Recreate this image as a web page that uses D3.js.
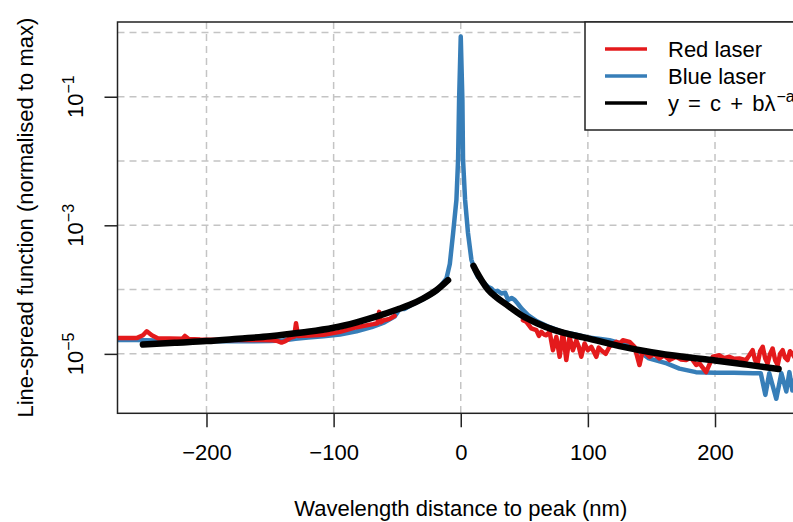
<!DOCTYPE html>
<html><head><meta charset="utf-8">
<script src="https://cdn.jsdelivr.net/npm/d3@7"></script>
<style>
body{margin:0;background:#fff;}
svg{display:block;font-family:"Liberation Sans",Arial,Helvetica,sans-serif;}
</style>
</head><body>
<svg id="chart" width="793" height="522"></svg>
<script>
// ---------------- data ----------------
const xTicks = [-200, -100, 0, 100, 200];
const yTickExps = [-1, -3, -5];
const yGridExps = [0, -1, -2, -3, -4, -5];
const legendLabels = ["Red laser", "Blue laser", "y = c + bλ"];
const legendColors = ["#e41a1c", "#377eb8", "#000000"];
const xLabel = "Wavelength distance to peak (nm)";
const yLabel = "Line-spread function (normalised to max)";
const xLim = [-250, 250];
const yLim = [2.0e-6, 0.865];

const blueLaser = [
  [-285,1.65e-5],[-269,1.65e-5],[-255,1.64e-5],[-240,1.62e-5],[-225,1.6e-5],[-210,1.58e-5],
  [-190,1.57e-5],[-170,1.57e-5],[-150,1.58e-5],[-140,1.62e-5],[-130,1.72e-5],[-120,1.8e-5],
  [-108,1.88e-5],[-95,2.0e-5],[-82,2.25e-5],[-70,2.6e-5],[-60,3.1e-5],[-52,3.8e-5],
  [-48,5.0e-5],[-44,5.0e-5],[-40,5.6e-5],[-30,7.0e-5],[-19,9.5e-5],[-11.2,1.5e-4],
  [-8.6,2.5e-4],[-6.0,7.6e-4],[-3.4,2.5e-3],[-2.1,1.04e-2],[-1.3,8.9e-2],[0,0.865],
  [1.3,8.9e-2],[1.8,1.04e-2],[3.4,2.5e-3],[5.7,7.6e-4],[8.4,2.9e-4],[11.0,2.0e-4],
  [13.6,1.56e-4],[16.3,1.4e-4],[21.4,1.1e-4],[24,1.05e-4],[26.7,9.2e-5],[29,9.6e-5],
  [32.0,8.7e-5],[35,8.9e-5],[37.2,6.9e-5],[40,7.4e-5],[42.4,6.9e-5],[45,6.0e-5],
  [47.7,5.1e-5],[52.9,4.0e-5],[60,3.2e-5],[70,2.6e-5],[80,2.2e-5],
  [90,2.0e-5],[100,1.8e-5],[110,1.7e-5],[117,1.63e-5],[126,1.45e-5],[135,1.3e-5],
  [148,8.5e-6],[162,7.1e-6],[172,5.9e-6],[185,5.2e-6],[200,5.1e-6],[215,5.1e-6],
  [230,5.0e-6],[236,5.0e-6],[239.6,2.3e-6],[242.7,5.0e-6],[248.2,2.0e-6],[252.2,5.0e-6],
  [256.1,2.6e-6],[258.5,5.2e-6],[260.8,2.7e-6],[264,5.0e-6],[268,3.0e-6],[275,5.0e-6]
];

const redLaserLeft = [
  [-285,1.77e-5],[-269,1.77e-5],[-262,1.76e-5],[-255,1.76e-5],[-250,1.95e-5],[-247,2.25e-5],
  [-243,1.95e-5],[-238,1.74e-5],[-229,1.74e-5],[-219,1.72e-5],[-217,1.9e-5],[-214,1.7e-5],
  [-205,1.67e-5],[-189,1.65e-5],[-174,1.65e-5],[-158,1.64e-5],[-148,1.63e-5],[-144,1.58e-5],
  [-141,1.5e-5],[-138,1.58e-5],[-134,1.78e-5],[-131,1.85e-5],[-129.6,3.0e-5],[-128,1.9e-5],
  [-119,1.93e-5],[-108,1.98e-5],[-95,2.2e-5],[-82,2.6e-5],[-69,2.9e-5],[-65.5,3.0e-5],
  [-64.2,4.5e-5],[-63,3.1e-5],[-61,3.3e-5],[-56,3.5e-5],[-52,3.9e-5]
];

const redLaserRight = [
  [48.9,3.35e-5],[51.6,3.15e-5],[55.5,2.5e-5],[59.5,2.34e-5],[61.5,1.9e-5],[63.4,2.2e-5],
  [65.5,2.0e-5],[67.3,1.95e-5],[69.9,2.2e-5],[72.5,1.14e-5],[75.2,1.84e-5],[77.8,9.0e-6],
  [80.4,2.2e-5],[83.0,8.0e-6],[85.6,1.84e-5],[88.2,1.14e-5],[90.9,1.63e-5],[92.8,1.3e-5],
  [94.8,9.0e-6],[97.4,1.45e-5],[100,1.14e-5],[102.7,1.29e-5],[106.6,9.0e-6],[108.5,1.25e-5],
  [110.5,1.14e-5],[114,1.0e-5],[117,1.29e-5],[122.3,1.54e-5],[125,1.45e-5],
  [127.5,1.63e-5],[132.8,1.54e-5],[136.7,1.29e-5],[140.6,6.7e-6],[143.2,1.14e-5],[146,1.0e-5],
  [148.5,9.0e-6],[152,1.0e-5],[156.3,8.5e-6],[160,9.5e-6],[164.2,8.0e-6],[169.4,9.0e-6],
  [173,8.2e-6],[177.3,8.0e-6],[181,8.8e-6],[185.2,6.7e-6],[187.8,7.1e-6],[193,5.2e-6],
  [198.2,9.0e-6],[203.5,9.5e-6],[207,8.6e-6],[211.3,9.0e-6],[215,8.4e-6],[219.2,8.5e-6],
  [224.4,8.0e-6],[227,9.5e-6],[229.6,1.14e-5],[231.5,8.0e-6],[233.5,7.1e-6],[235.5,1.1e-5],
  [237.5,1.29e-5],[239.5,8.5e-6],[241.4,7.1e-6],[243.3,1.0e-5],[245.3,1.21e-5],[247.3,8.0e-6],
  [249.3,6.7e-6],[251.2,1.0e-5],[253.2,1.14e-5],[255,8.8e-6],[257.1,8.0e-6],[259,1.1e-5],
  [260.8,1.0e-5],[264,8.0e-6],[268,1.1e-5],[275,9.0e-6]
];

const fitLeft = [
  [-250,1.40e-5],[-225,1.49e-5],[-200,1.58e-5],[-175,1.72e-5],[-150,1.88e-5],[-125,2.15e-5],
  [-100,2.55e-5],[-82,3.1e-5],[-63,4.0e-5],[-50,4.9e-5],[-40,5.8e-5],[-30,7.2e-5],
  [-19,9.8e-5],[-10,1.40e-4]
];

const fitRight = [
  [10,2.34e-4],[13,1.8e-4],[16.3,1.4e-4],[21.5,1.0e-4],[28,7.6e-5],[34.6,6.1e-5],
  [47.7,4.0e-5],[60,3.0e-5],[73.8,2.34e-5],[100,1.74e-5],[125,1.32e-5],[150,1.06e-5],
  [175,9.0e-6],[200,7.9e-6],[225,6.8e-6],[250,5.8e-6]
];

// ---------------- layout ----------------
const svg = d3.select("#chart");
const plot = {left: 117.5, top: 22, right: 804, bottom: 413.3};

const xr = xLim[1] - xLim[0];
const x = d3.scaleLinear()
  .domain([xLim[0] - 0.04 * xr, xLim[1] + 0.04 * xr])
  .range([plot.left, plot.right]);

const ly0 = Math.log10(yLim[0]), ly1 = Math.log10(yLim[1]);
const lr = ly1 - ly0;
const y = d3.scaleLog()
  .domain([Math.pow(10, ly0 - 0.04 * lr), Math.pow(10, ly1 + 0.04 * lr)])
  .range([plot.bottom, plot.top]);

svg.append("defs").append("clipPath").attr("id", "clip")
  .append("rect")
  .attr("x", plot.left).attr("y", plot.top)
  .attr("width", plot.right - plot.left).attr("height", plot.bottom - plot.top);

// grid
const grid = svg.append("g").attr("stroke", "#c4c4c4").attr("stroke-width", 1.5)
  .attr("stroke-dasharray", "7,5").attr("clip-path", "url(#clip)");
grid.selectAll("line.v").data(xTicks).join("line")
  .attr("x1", d => x(d)).attr("x2", d => x(d))
  .attr("y1", plot.top).attr("y2", plot.bottom);
grid.selectAll("line.h").data(yGridExps).join("line")
  .attr("x1", plot.left).attr("x2", plot.right)
  .attr("y1", d => y(Math.pow(10, d))).attr("y2", d => y(Math.pow(10, d)));

// data
const line = d3.line().x(d => x(d[0])).y(d => y(d[1]));
const smooth = d3.line().x(d => x(d[0])).y(d => y(d[1])).curve(d3.curveMonotoneX);
const dataG = svg.append("g").attr("clip-path", "url(#clip)")
  .attr("fill", "none").attr("stroke-linejoin", "round").attr("stroke-linecap", "round");

dataG.append("path").datum(blueLaser).attr("d", line)
  .attr("stroke", legendColors[1]).attr("stroke-width", 4.5);
dataG.append("path").datum(redLaserLeft).attr("d", line)
  .attr("stroke", legendColors[0]).attr("stroke-width", 4.5);
dataG.append("path").datum(redLaserRight).attr("d", line)
  .attr("stroke", legendColors[0]).attr("stroke-width", 4.5);
[fitLeft, fitRight].forEach(f => {
  dataG.append("path").datum(f).attr("d", smooth)
    .attr("stroke", "#000").attr("stroke-width", 6.5);
});

// box
svg.append("rect")
  .attr("x", plot.left).attr("y", plot.top)
  .attr("width", plot.right - plot.left).attr("height", plot.bottom - plot.top)
  .attr("fill", "none").attr("stroke", "#222").attr("stroke-width", 1.5);

// x axis
const xAxis = svg.append("g").attr("transform", `translate(0,${plot.bottom})`)
  .call(d3.axisBottom(x).tickValues(xTicks).tickSize(14).tickPadding(17)
    .tickFormat(d => d < 0 ? "\u2212" + Math.abs(d) : String(d)));
xAxis.select(".domain").remove();
xAxis.selectAll("line").attr("stroke", "#222").attr("stroke-width", 1.5);
xAxis.selectAll("text").attr("font-size", 22).attr("fill", "#000")
  .attr("font-family", "Liberation Sans, Arial, sans-serif");

// y axis
const yAxis = svg.append("g").attr("transform", `translate(${plot.left},0)`)
  .call(d3.axisLeft(y).tickValues(yTickExps.map(e => Math.pow(10, e))).tickSize(13).tickFormat(""));
yAxis.select(".domain").remove();
yAxis.selectAll("line").attr("stroke", "#222").attr("stroke-width", 1.5);

yTickExps.forEach(e => {
  const t = svg.append("text")
    .attr("transform", `translate(83,${y(Math.pow(10, e))}) rotate(-90)`)
    .attr("text-anchor", "middle").attr("font-size", 22).attr("fill", "#000");
  t.append("tspan").text("10");
  t.append("tspan").attr("dy", -9).attr("font-size", 16).text("\u2212" + Math.abs(e));
});

// axis titles
svg.append("text").attr("x", (plot.left + plot.right) / 2).attr("y", 516)
  .attr("text-anchor", "middle").attr("font-size", 22).attr("fill", "#000").text(xLabel);
svg.append("text")
  .attr("transform", `translate(33,${(plot.top + plot.bottom) / 2}) rotate(-90)`)
  .attr("text-anchor", "middle").attr("font-size", 22).attr("fill", "#000").text(yLabel);

// legend
const lg = svg.append("g");
lg.append("rect").attr("x", 585).attr("y", 22).attr("width", 260).attr("height", 108)
  .attr("fill", "#fff").attr("stroke", "#222").attr("stroke-width", 1.5);
legendLabels.forEach((lab, i) => {
  const ly = 49 + i * 27;
  lg.append("line").attr("x1", 605).attr("x2", 647).attr("y1", ly).attr("y2", ly)
    .attr("stroke", legendColors[i]).attr("stroke-width", 3.5);
  const t = lg.append("text").attr("x", 668).attr("y", ly + 8)
    .attr("font-size", 22).attr("fill", "#000");
  if (i === 2) {
    t.attr("word-spacing", 3);
    t.append("tspan").text(lab);
    t.append("tspan").attr("dx", 1).attr("dy", -9).attr("font-size", 16).text("\u2212a");
  } else {
    t.append("tspan").text(lab);
  }
});
</script>
</body></html>
